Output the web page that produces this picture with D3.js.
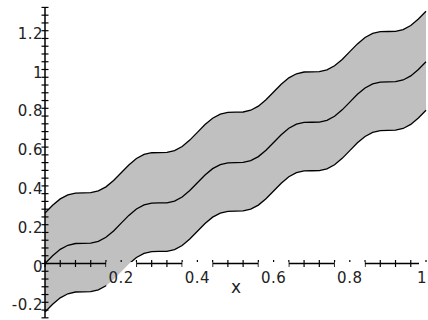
<!DOCTYPE html>
<html>
<head>
<meta charset="utf-8">
<script src="https://cdn.jsdelivr.net/npm/d3@7"></script>
<style>
  html, body { margin: 0; padding: 0; background: #fff; }
  svg { display: block; }
  text { font-family: "DejaVu Sans", "Liberation Sans", Arial, sans-serif; fill: #222; }
</style>
</head>
<body>
<svg id="chart" width="428" height="320"></svg>
<script>
// ---- data ----
const xs = [0,0.02,0.04,0.06,0.08,0.10,0.12,0.14,0.16,0.18,
            0.20,0.22,0.24,0.26,0.28,0.30,0.32,0.34,0.36,0.38,
            0.40,0.42,0.44,0.46,0.48,0.50,0.52,0.54,0.56,0.58,
            0.60,0.62,0.64,0.66,0.68,0.70,0.72,0.74,0.76,0.78,
            0.80,0.82,0.84,0.86,0.88,0.90,0.92,0.94,0.96,0.98,1.00];
const middle = [0.000,0.040,0.073,0.094,0.103,0.104,0.105,0.114,0.135,0.168,
                0.208,0.248,0.281,0.302,0.311,0.312,0.313,0.322,0.343,0.376,
                0.416,0.456,0.489,0.510,0.519,0.520,0.521,0.530,0.551,0.584,
                0.624,0.664,0.697,0.718,0.727,0.728,0.729,0.738,0.759,0.792,
                0.832,0.872,0.905,0.926,0.935,0.936,0.937,0.946,0.967,1.000,1.040];
const upper = [0.260,0.300,0.333,0.354,0.363,0.364,0.365,0.374,0.395,0.428,
               0.468,0.508,0.541,0.562,0.571,0.572,0.573,0.582,0.603,0.636,
               0.676,0.716,0.749,0.770,0.779,0.780,0.781,0.790,0.811,0.844,
               0.884,0.924,0.957,0.978,0.987,0.988,0.989,0.998,1.019,1.052,
               1.092,1.132,1.165,1.186,1.195,1.196,1.197,1.206,1.227,1.260,1.300];
const lower = [-0.250,-0.210,-0.177,-0.156,-0.147,-0.146,-0.145,-0.136,-0.115,-0.082,
               -0.042,-0.002,0.031,0.052,0.061,0.062,0.063,0.072,0.093,0.126,
               0.166,0.206,0.239,0.260,0.269,0.270,0.271,0.280,0.301,0.334,
               0.374,0.414,0.447,0.468,0.477,0.478,0.479,0.488,0.509,0.542,
               0.582,0.622,0.655,0.676,0.685,0.686,0.687,0.696,0.717,0.750,0.790];
const xTickLabels = [0.2, 0.4, 0.6, 0.8, 1];
const yTickLabels = [-0.2, 0, 0.2, 0.4, 0.6, 0.8, 1, 1.2];
const xAxisTitle = "x";

// ---- layout ----
const svg = d3.select("#chart");
const x = d3.scaleLinear().domain([0, 1]).range([45, 426]);
const y = d3.scaleLinear().domain([0, 1.2]).range([263.5, 30.7]);
const yMin = -0.28, yMax = 1.32;
const minorStep = 0.04;
const fmt = v => String(v);

const rows = xs.map((v, i) => ({x: v, m: middle[i], u: upper[i], l: lower[i]}));

// mask: label boxes hide lines but not the fill
const defs = svg.append("defs");
const mask = defs.append("mask").attr("id", "lblmask").attr("maskUnits", "userSpaceOnUse")
  .attr("x", 0).attr("y", 0).attr("width", 428).attr("height", 320);
mask.append("rect").attr("x", 0).attr("y", 0).attr("width", 428).attr("height", 320).attr("fill", "#fff");
mask.selectAll("rect.box").data(xTickLabels).join("rect").attr("class", "box")
  .attr("x", d => (d === 1 ? 419 : x(d) - 15)).attr("y", 262).attr("width", 30).attr("height", 24).attr("fill", "#000");

// band fill
svg.append("path")
  .datum(rows)
  .attr("fill", "#c0c0c0")
  .attr("d", d3.area().x(d => x(d.x)).y0(d => y(d.l)).y1(d => y(d.u)));

const lines = svg.append("g").attr("mask", "url(#lblmask)");
const lineGen = key => d3.line().x(d => x(d.x)).y(d => y(d[key]));
["u", "m", "l"].forEach(k => {
  lines.append("path").datum(rows)
    .attr("fill", "none").attr("stroke", "#000").attr("stroke-width", 1.3)
    .attr("d", lineGen(k));
});

// axes
const xMinor = d3.range(0, 1 + 1e-9, minorStep);
const yMinor = d3.range(Math.round(yMin / minorStep), Math.round(yMax / minorStep) + 1).map(i => i * minorStep);
lines.append("line").attr("x1", x(0)).attr("x2", x(1) + 2).attr("y1", y(0)).attr("y2", y(0))
  .attr("stroke", "#000").attr("stroke-width", 1.5);
lines.selectAll("line.xt").data(xMinor).join("line").attr("class", "xt")
  .attr("x1", d => x(d)).attr("x2", d => x(d)).attr("y1", y(0) - 3.5).attr("y2", y(0) + 3.5)
  .attr("stroke", "#000").attr("stroke-width", 1.2);

svg.append("line").attr("x1", x(0)).attr("x2", x(0)).attr("y1", y(yMax)).attr("y2", y(yMin))
  .attr("stroke", "#000").attr("stroke-width", 1.5);
svg.selectAll("line.yt").data(yMinor).join("line").attr("class", "yt")
  .attr("x1", x(0) - 3.5).attr("x2", x(0) + 3.5).attr("y1", d => y(d)).attr("y2", d => y(d))
  .attr("stroke", "#000").attr("stroke-width", 1.2);

// tick labels
svg.selectAll("text.xl").data(xTickLabels).join("text").attr("class", "xl")
  .attr("x", d => (d === 1 ? 427 : x(d))).attr("y", 283)
  .attr("text-anchor", d => (d === 1 ? "end" : "middle"))
  .attr("font-size", 15).attr("letter-spacing", 0.5)
  .text(d => fmt(d));
svg.selectAll("text.yl").data(yTickLabels).join("text").attr("class", "yl")
  .attr("x", 43).attr("y", d => y(d) + 8).attr("text-anchor", "end")
  .attr("font-size", 15).attr("letter-spacing", 0.5)
  .text(d => fmt(d));
svg.append("text").attr("x", 236).attr("y", 293).attr("text-anchor", "middle")
  .attr("font-size", 17).text(xAxisTitle);
</script>
</body>
</html>
